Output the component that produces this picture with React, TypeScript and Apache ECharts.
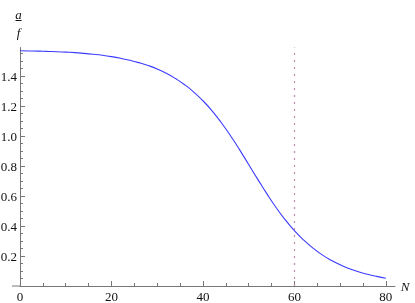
import React, { useEffect, useRef } from "react";
import * as echarts from "echarts";

const nValues = [0, 2, 4, 6, 8, 10, 12, 14, 16, 18, 20, 22, 24, 26, 28, 30, 32, 34, 36, 38, 40, 42, 44, 46, 48, 50, 52, 54, 56, 58, 60, 62, 64, 66, 68, 70, 72, 74, 76, 78, 80];
const afValues = [1.568, 1.567, 1.566, 1.564, 1.562, 1.559, 1.556, 1.551, 1.545, 1.538, 1.529, 1.518, 1.505, 1.489, 1.470, 1.447, 1.418, 1.383, 1.342, 1.293, 1.235, 1.168, 1.090, 1.003, 0.909, 0.810, 0.711, 0.614, 0.523, 0.441, 0.369, 0.307, 0.254, 0.209, 0.172, 0.141, 0.116, 0.095, 0.078, 0.064, 0.052];
const xMajorTicks = [0, 20, 40, 60, 80];
const xMinorTicks = [5, 10, 15, 25, 30, 35, 45, 50, 55, 65, 70, 75];
const yMajorTicks = [0.2, 0.4, 0.6, 0.8, 1.0, 1.2, 1.4];
const yMinorTicks = [0.05, 0.1, 0.15, 0.25, 0.3, 0.35, 0.45, 0.5, 0.55, 0.65, 0.7, 0.75, 0.85, 0.9, 0.95, 1.05, 1.1, 1.15, 1.25, 1.3, 1.35, 1.45, 1.5, 1.55];
const markerN = 60;

const SERIF = "Liberation Serif";
const AXIS = "#777";

export default function App() {
  const ref = useRef<HTMLDivElement>(null);
  useEffect(() => {
    if (!ref.current) return;
    const chart = echarts.init(ref.current, null, { renderer: "svg" });
    const xBase = { type: "value", min: 0, max: 82, interval: 20, gridIndex: 0, splitLine: { show: false } };
    const yBase = { type: "value", min: 0, max: 1.59, interval: 0.2, gridIndex: 0, splitLine: { show: false } };
    const labelStyle = { fontFamily: SERIF, fontSize: 13, color: "#111" };
    chart.setOption({
      animation: false,
      grid: { left: 20, right: 20, top: 47.5, bottom: 17, containLabel: false, outerBoundsMode: "none" },
      xAxis: [
        {
          ...xBase,
          axisLine: { show: true, lineStyle: { color: AXIS, width: 1 } },
          axisTick: { show: true, inside: true, length: 5, customValues: xMajorTicks, lineStyle: { color: AXIS } },
          axisLabel: { show: true, showMaxLabel: false, margin: 4, ...labelStyle },
        },
        {
          ...xBase,
          position: "bottom",
          axisLine: { show: false },
          axisTick: { show: true, inside: true, length: 3, customValues: xMinorTicks, lineStyle: { color: AXIS } },
          axisLabel: { show: false },
        },
      ],
      yAxis: [
        {
          ...yBase,
          axisLine: { show: true, lineStyle: { color: AXIS, width: 1 } },
          axisTick: { show: true, inside: true, length: 5, customValues: yMajorTicks, lineStyle: { color: AXIS } },
          axisLabel: { show: true, showMaxLabel: false, showMinLabel: false, margin: 3, ...labelStyle, formatter: (v: number) => v.toFixed(1) },
        },
        {
          ...yBase,
          position: "left",
          axisLine: { show: false },
          axisTick: { show: true, inside: true, length: 3, customValues: yMinorTicks, lineStyle: { color: AXIS } },
          axisLabel: { show: false },
        },
      ],
      series: [
        {
          type: "line",
          xAxisIndex: 0,
          yAxisIndex: 0,
          data: nValues.map((n, i) => [n, afValues[i]]),
          showSymbol: false,
          smooth: true,
          lineStyle: { color: "#3b3bff", width: 1.1 },
          markLine: {
            silent: true,
            symbol: "none",
            label: { show: false },
            lineStyle: { color: "#c08aae", type: [2, 5], width: 1.2 },
            data: [{ xAxis: markerN }],
          },
        },
      ],
      graphic: [
        { type: "line", shape: { x1: 12, y1: 286, x2: 20, y2: 286 }, style: { stroke: AXIS, lineWidth: 1 } },
        { type: "text", x: 18.5, y: 14.5, style: { text: "a", font: `italic 13px ${SERIF}`, fill: "#111", align: "center", verticalAlign: "middle" } },
        { type: "line", shape: { x1: 15.5, y1: 20.5, x2: 21.5, y2: 20.5 }, style: { stroke: "#111", lineWidth: 1 } },
        { type: "text", x: 18.5, y: 32, style: { text: "f", font: `italic 13px ${SERIF}`, fill: "#111", align: "center", verticalAlign: "middle" } },
        { type: "text", x: 405, y: 286, style: { text: "N", font: `italic 13px ${SERIF}`, fill: "#111", align: "center", verticalAlign: "middle" } },
      ],
    });
    return () => chart.dispose();
  }, []);
  return <div ref={ref} style={{ position: "fixed", left: 0, top: 0, width: 415, height: 303 }} />;
}
